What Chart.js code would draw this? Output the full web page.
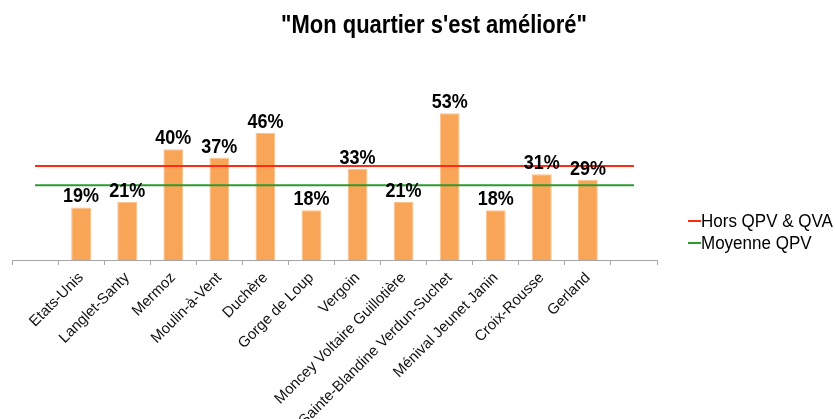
<!DOCTYPE html>
<html>
<head>
<meta charset="utf-8">
<script src="https://cdn.jsdelivr.net/npm/chart.js@4"></script>
<style>
  body { margin: 0; background: #fff; }
  canvas { display: block; }
</style>
</head>
<body>
<canvas id="chart" width="835" height="419"></canvas>
<script>
// empty slots at both ends, like the original axis
const quartiers = ['', 'Etats-Unis', 'Langlet-Santy', 'Mermoz', 'Moulin-à-Vent', 'Duchère', 'Gorge de Loup',
    'Vergoin', 'Moncey Voltaire Guillotière', 'Sainte-Blandine Verdun-Suchet', 'Ménival Jeunet Janin',
    'Croix-Rousse', 'Gerland', ''];
const ameliore = [null, 19, 21, 40, 37, 46, 18, 33, 21, 53, 18, 31, 29, null];
const horsQpv = [34, 34, 34, 34, 34, 34, 34, 34, 34, 34, 34, 34, 34, 34];
const moyenneQpv = [27, 27, 27, 27, 27, 27, 27, 27, 27, 27, 27, 27, 27, 27];
const titre = '"Mon quartier s\'est amélioré"';

const font = '"Liberation Sans", Arial, sans-serif';

// text is a bit taller than wide in the original picture
function tallText(ctx, txt, x, y, sy) {
    ctx.save();
    ctx.translate(x, y);
    ctx.scale(1, sy);
    ctx.fillText(txt, 0, 0);
    ctx.restore();
}

const extras = {
    id: 'extras',
    afterDatasetsDraw(chart) {
        const ctx = chart.ctx;
        ctx.save();
        // value labels above the bars
        const meta = chart.getDatasetMeta(0);
        ctx.fillStyle = '#000';
        ctx.font = 'bold 18px ' + font;
        ctx.textAlign = 'center';
        ctx.textBaseline = 'alphabetic';
        meta.data.forEach((bar, i) => {
            const v = ameliore[i];
            if (v == null) return;
            tallText(ctx, v + '%', bar.x, bar.y - 5, 1.15);
        });
        // title
        ctx.font = 'bold 22px ' + font;
        tallText(ctx, titre, 434, 33, 1.13);
        // legend
        const items = [
            { label: 'Hors QPV & QVA', color: '#FF2A12', y: 221 },
            { label: 'Moyenne QPV', color: '#2E9A2E', y: 243 }
        ];
        ctx.font = '17px ' + font;
        ctx.textAlign = 'left';
        ctx.textBaseline = 'middle';
        items.forEach(it => {
            ctx.strokeStyle = it.color;
            ctx.lineWidth = 2;
            ctx.beginPath();
            ctx.moveTo(688, it.y);
            ctx.lineTo(701, it.y);
            ctx.stroke();
            ctx.fillStyle = '#000';
            tallText(ctx, it.label, 701, it.y + 1, 1.05);
        });
        ctx.restore();
    }
};

new Chart(document.getElementById('chart'), {
    type: 'bar',
    data: {
        labels: quartiers,
        datasets: [{
            label: 'Mon quartier s\'est amélioré',
            data: ameliore,
            backgroundColor: '#F9A557',
            borderColor: '#FBC08C',
            borderWidth: 1,
            barPercentage: 0.43,
            categoryPercentage: 1,
            order: 2
        }, {
            type: 'line',
            label: 'Hors QPV & QVA',
            data: horsQpv,
            borderColor: '#FF2A12',
            borderWidth: 2,
            pointRadius: 0,
            order: 1
        }, {
            type: 'line',
            label: 'Moyenne QPV',
            data: moyenneQpv,
            borderColor: '#2E9A2E',
            borderWidth: 2,
            pointRadius: 0,
            order: 1
        }]
    },
    options: {
        responsive: false,
        animation: false,
        layout: { padding: { left: 12, right: 178, top: 94, bottom: 0 } },
        plugins: {
            legend: { display: false },
            title: { display: false },
            tooltip: { enabled: false }
        },
        scales: {
            x: {
                offset: true,
                grid: { drawOnChartArea: false, offset: true, color: '#A6A6A6', tickLength: 5 },
                border: { color: '#A6A6A6' },
                ticks: {
                    autoSkip: false,
                    minRotation: 45,
                    maxRotation: 45,
                    color: '#111',
                    padding: 4,
                    font: { family: font, size: 15 }
                },
                afterFit: s => { s.height = 159; }
            },
            y: {
                display: false,
                min: 0,
                max: 60
            }
        }
    },
    plugins: [extras]
});
</script>
</body>
</html>
